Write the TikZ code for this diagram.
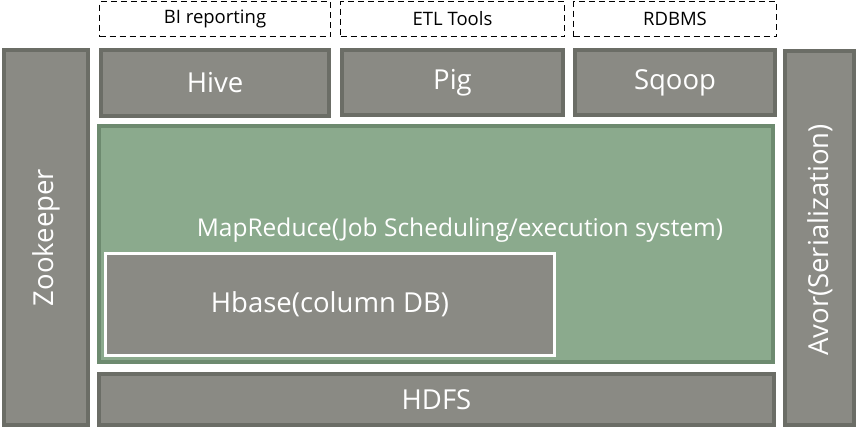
\documentclass[tikz,border=0pt]{standalone}
\usepackage{fontspec}
\setmainfont{Open Sans}
\definecolor{boxfill}{HTML}{8A8A84}
\definecolor{boxline}{HTML}{6B6D66}
\definecolor{grnfill}{HTML}{8BAA8D}
\definecolor{grnline}{HTML}{6D8A6F}
\tikzset{
  bigfont/.style={font=\fontsize{27.5}{32}\selectfont},
  graybox/.style={draw=boxline, fill=boxfill, line width=3.5pt, text=white, inner sep=0pt, bigfont},
  dashbox/.style={draw=black, dashed, line width=1.8pt, dash pattern=on 6pt off 4pt, inner sep=0pt, font=\fontsize{18.5}{22}\selectfont},
  greenbox/.style={draw=grnline, fill=grnfill, line width=3.5pt, inner sep=0pt},
  hbasebox/.style={draw=white, fill=boxfill, line width=3pt, text=white, inner sep=0pt, bigfont},
  lbl/.style={text=white, inner sep=0pt}
}
\begin{document}
\begin{tikzpicture}[x=1pt,y=-1pt]
\useasboundingbox (0,0) rectangle (858,432);
% dashed labels
\node[dashbox, minimum width=231pt, minimum height=35pt] (bi) at (215,19) {BI reporting};
\node[dashbox, minimum width=224pt, minimum height=35pt] (etl) at (452.5,19) {ETL Tools};
\node[dashbox, minimum width=203pt, minimum height=35pt] (rdb) at (675,19) {RDBMS};
% top tools
\node[graybox, minimum width=228pt, minimum height=66pt] (hive) at (215,83) {Hive};
\node[graybox, minimum width=221pt, minimum height=65pt] (pig) at (452.5,82.5) {Pig};
\node[graybox, minimum width=200pt, minimum height=65pt] (sqoop) at (675,82.5) {Sqoop};
% side bars
\node[graybox, minimum width=84pt, minimum height=375pt] (zoo) at (46,237.5) {};
\node[lbl, rotate=90, bigfont] (zoot) at (46,237.5) {Zookeeper};
\node[graybox, minimum width=69pt, minimum height=374pt] (avor) at (819.5,238) {};
\node[lbl, rotate=90, bigfont] (avort) at (820,240) {Avor(Serialization)};
% MapReduce
\node[greenbox, minimum width=674pt, minimum height=236pt] (mr) at (436,244) {};
\node[lbl, font=\fontsize{24.5}{29}\selectfont] (mrt) at (460,230) {MapReduce(Job Scheduling/execution system)};
\node[hbasebox, minimum width=449pt, minimum height=102pt] (hbase) at (330,304.5) {Hbase(column DB)};
% HDFS
\node[graybox, minimum width=675pt, minimum height=51pt] (hdfs) at (436.5,399.5) {HDFS};
\end{tikzpicture}
\end{document}
